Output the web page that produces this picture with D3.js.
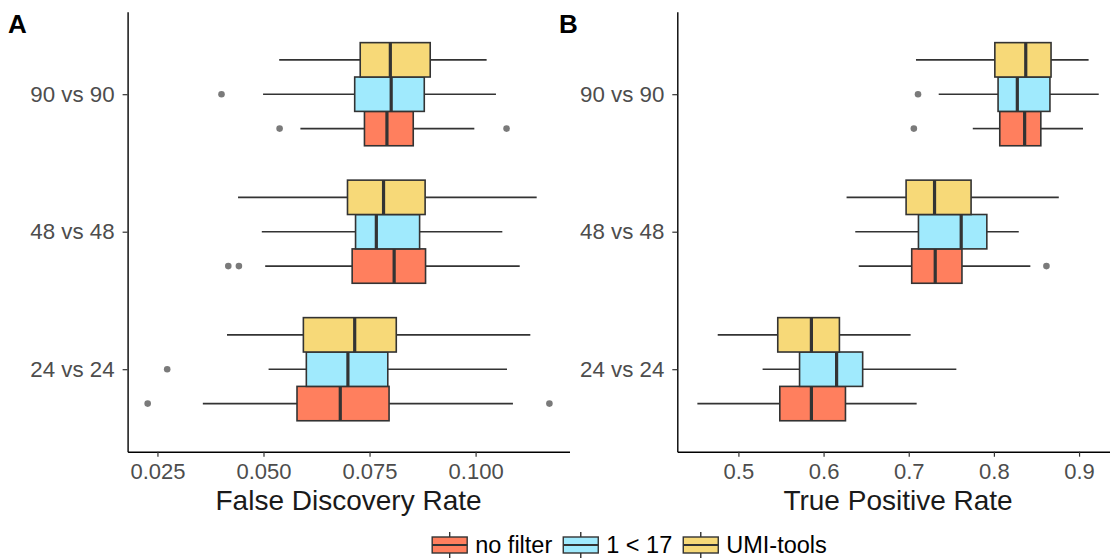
<!DOCTYPE html>
<html>
<head>
<meta charset="utf-8">
<script src="https://cdn.jsdelivr.net/npm/d3@7"></script>
<style>
  html, body { margin: 0; padding: 0; background: #fff; }
  svg { display: block; font-family: "Liberation Sans", Arial, Helvetica, sans-serif; }
</style>
</head>
<body>
<svg id="chart" width="1110" height="558"></svg>
<script>
// ---------- data ----------
const comparisons = ["24 vs 24", "48 vs 48", "90 vs 90"];
const methods = ["no filter", "1 < 17", "UMI-tools"];
const methodColors = ["#FF7F5E", "#A0EAFD", "#F7D978"];

// each row: [lower whisker, Q1, median, Q3, upper whisker], one row per comparison
const fdrNoFilter = [[0.0357, 0.0579, 0.0681, 0.0796, 0.1088], [0.0504, 0.0709, 0.0808, 0.0882, 0.1104], [0.0587, 0.0738, 0.0791, 0.0853, 0.0997]];
const fdrFilter17 = [[0.0512, 0.0601, 0.0699, 0.0793, 0.1074], [0.0496, 0.0717, 0.0766, 0.0868, 0.1063], [0.0499, 0.0715, 0.0801, 0.0879, 0.1048]];
const fdrUmiTools = [[0.0414, 0.0594, 0.0715, 0.0813, 0.1129], [0.0440, 0.0698, 0.0783, 0.0881, 0.1144], [0.0537, 0.0728, 0.0799, 0.0893, 0.1026]];
const fdrOutliers = [
  ["no filter", "24 vs 24", 0.0227], ["no filter", "24 vs 24", 0.1174], ["1 < 17", "24 vs 24", 0.0273],
  ["no filter", "48 vs 48", 0.0417], ["no filter", "48 vs 48", 0.0442],
  ["no filter", "90 vs 90", 0.0538], ["no filter", "90 vs 90", 0.1073], ["1 < 17", "90 vs 90", 0.0401]
];
const fdrTicks = [0.025, 0.050, 0.075, 0.100];

const tprNoFilter = [[0.4518, 0.5486, 0.5857, 0.6257, 0.7093], [0.6413, 0.7035, 0.7311, 0.7625, 0.8428], [0.7752, 0.8069, 0.8361, 0.8551, 0.9046]];
const tprFilter17 = [[0.5284, 0.5718, 0.6153, 0.6459, 0.7559], [0.6372, 0.7114, 0.7616, 0.7917, 0.8292], [0.7352, 0.8049, 0.8275, 0.8658, 0.9231]];
const tprUmiTools = [[0.4757, 0.5462, 0.5857, 0.6186, 0.7022], [0.6270, 0.6969, 0.7303, 0.7732, 0.8762], [0.7085, 0.8011, 0.8374, 0.8671, 0.9112]];
const tprOutliers = [
  ["no filter", "48 vs 48", 0.8617], ["no filter", "90 vs 90", 0.7060], ["1 < 17", "90 vs 90", 0.7109]
];
const tprTicks = [0.5, 0.6, 0.7, 0.8, 0.9];

// ---------- drawing ----------
const svg = d3.select("#chart");
const plotTop = 11.7, plotBottom = 451.7;
const darkLine = "#333333";

function panel(opts) {
  const { left, right, stats, outliers, ticks, tickFmt, title, tag, tagX } = opts;
  const g = svg.append("g");

  const allVals = stats.flat(2).concat(outliers.map(d => d[2]));
  const lo = d3.min(allVals), hi = d3.max(allVals);
  const pad = (hi - lo) * 0.05;
  const x = d3.scaleLinear().domain([lo - pad, hi + pad]).range([left, right]);
  const y = d3.scalePoint().domain(comparisons).range([plotBottom, plotTop]).padding(0.6);
  const step = y.step();
  const sub = d3.scaleBand().domain(methods.slice().reverse()).range([-0.375 * step, 0.375 * step]);
  const bh = sub.bandwidth();

  // boxes
  methods.forEach((m, mi) => {
    stats[mi].forEach((s, ci) => {
      const cy = y(comparisons[ci]) + sub(m) + bh / 2;
      const [w0, q1, med, q3, w1] = s;
      const bg = g.append("g");
      bg.append("line").attr("x1", x(w0)).attr("x2", x(q1)).attr("y1", cy).attr("y2", cy)
        .attr("stroke", darkLine).attr("stroke-width", 1.6);
      bg.append("line").attr("x1", x(q3)).attr("x2", x(w1)).attr("y1", cy).attr("y2", cy)
        .attr("stroke", darkLine).attr("stroke-width", 1.6);
      bg.append("rect").attr("x", x(q1)).attr("y", cy - bh / 2).attr("width", x(q3) - x(q1)).attr("height", bh)
        .attr("fill", methodColors[mi]).attr("stroke", darkLine).attr("stroke-width", 1.6);
      bg.append("line").attr("x1", x(med)).attr("x2", x(med)).attr("y1", cy - bh / 2).attr("y2", cy + bh / 2)
        .attr("stroke", darkLine).attr("stroke-width", 3.2);
    });
  });

  // outliers
  g.selectAll("circle.out").data(outliers).join("circle")
    .attr("class", "out")
    .attr("cx", d => x(d[2]))
    .attr("cy", d => y(d[1]) + sub(d[0]) + bh / 2)
    .attr("r", 3.3)
    .attr("fill", "#7A7A7A");

  // x axis
  const xAxis = d3.axisBottom(x).tickValues(ticks).tickFormat(tickFmt).tickSize(5).tickSizeOuter(0).tickPadding(4);
  const xa = g.append("g").attr("transform", `translate(0,${plotBottom})`).call(xAxis);
  xa.select(".domain").attr("stroke", "#000").attr("stroke-width", 1.4);
  xa.selectAll(".tick line").attr("stroke", darkLine).attr("stroke-width", 1.2);
  xa.selectAll(".tick text").attr("fill", "#4D4D4D").attr("font-size", 22).attr("dy", "0.85em")
    .style("font-family", "'Liberation Sans', Arial, sans-serif");

  // y axis
  const yAxis = d3.axisLeft(y).tickSize(5).tickSizeOuter(0).tickPadding(8);
  const ya = g.append("g").attr("transform", `translate(${left},0)`).call(yAxis);
  ya.select(".domain").attr("stroke", "#000").attr("stroke-width", 1.4);
  ya.selectAll(".tick line").attr("stroke", darkLine).attr("stroke-width", 1.2);
  ya.selectAll(".tick text").attr("fill", "#4D4D4D").attr("font-size", 22.3)
    .style("font-family", "'Liberation Sans', Arial, sans-serif");

  // title
  g.append("text").attr("x", (left + right) / 2).attr("y", 510)
    .attr("text-anchor", "middle").attr("font-size", 28).attr("fill", "#1A1A1A").text(title);

  // tag
  g.append("text").attr("x", tagX).attr("y", 33).attr("font-size", 26).attr("font-weight", "bold")
    .attr("fill", "#000").text(tag);
}

panel({
  left: 127.6, right: 569.5,
  stats: [fdrNoFilter, fdrFilter17, fdrUmiTools],
  outliers: fdrOutliers, ticks: fdrTicks, tickFmt: d3.format(".3f"),
  title: "False Discovery Rate", tag: "A", tagX: 8
});
panel({
  left: 677.3, right: 1118.8,
  stats: [tprNoFilter, tprFilter17, tprUmiTools],
  outliers: tprOutliers, ticks: tprTicks, tickFmt: d3.format(".1f"),
  title: "True Positive Rate", tag: "B", tagX: 559
});

// ---------- legend ----------
const leg = svg.append("g");
const keyW = 35, keyH = 16, legCy = 545, legCenter = 629.5;
let cursor = 0;
methods.forEach((m, i) => {
  const ig = leg.append("g");
  const kx = cursor;
  ig.append("line").attr("x1", kx + keyW / 2).attr("x2", kx + keyW / 2).attr("y1", legCy - keyH / 2 - 5).attr("y2", legCy - keyH / 2)
    .attr("stroke", darkLine).attr("stroke-width", 1.4);
  ig.append("line").attr("x1", kx + keyW / 2).attr("x2", kx + keyW / 2).attr("y1", legCy + keyH / 2).attr("y2", legCy + keyH / 2 + 5)
    .attr("stroke", darkLine).attr("stroke-width", 1.4);
  ig.append("rect").attr("x", kx).attr("y", legCy - keyH / 2).attr("width", keyW).attr("height", keyH)
    .attr("fill", methodColors[i]).attr("stroke", darkLine).attr("stroke-width", 1.4);
  ig.append("line").attr("x1", kx).attr("x2", kx + keyW).attr("y1", legCy).attr("y2", legCy)
    .attr("stroke", darkLine).attr("stroke-width", 2.2);
  const t = ig.append("text").attr("x", kx + keyW + 8).attr("y", legCy).attr("dy", "0.36em")
    .attr("font-size", 23.5).attr("fill", "#000").text(m);
  const tw = t.node().getComputedTextLength();
  cursor = kx + keyW + 8 + tw + 11;
});
const totalW = cursor - 11;
leg.attr("transform", `translate(${legCenter - totalW / 2},0)`);
</script>
</body>
</html>
